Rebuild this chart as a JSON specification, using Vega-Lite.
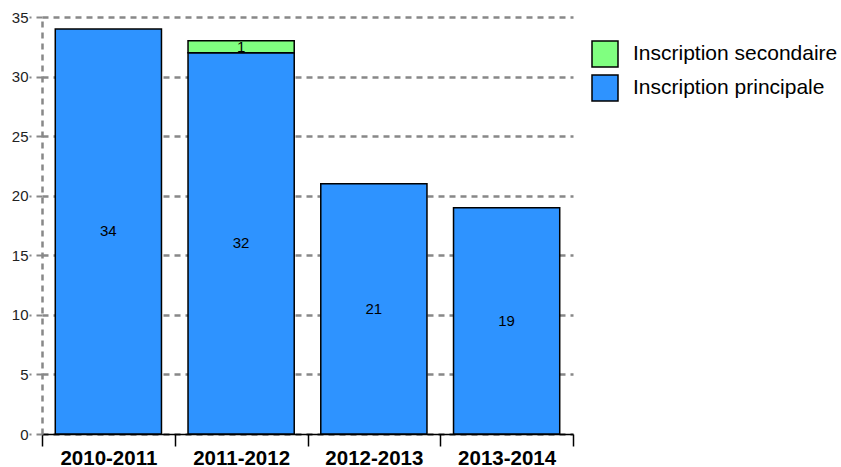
{
  "$schema": "https://vega.github.io/schema/vega-lite/v6.json",
  "width": 531,
  "height": 417,
  "autosize": {"type": "none"},
  "padding": {"left": 42, "top": 17, "right": 268, "bottom": 33},
  "config": {
    "view": {"stroke": null},
    "font": "Liberation Sans"
  },
  "data": {
    "values": [
      {"year": "2010-2011", "type": "Inscription principale", "value": 34},
      {"year": "2011-2012", "type": "Inscription principale", "value": 32},
      {"year": "2011-2012", "type": "Inscription secondaire", "value": 1},
      {"year": "2012-2013", "type": "Inscription principale", "value": 21},
      {"year": "2013-2014", "type": "Inscription principale", "value": 19}
    ]
  },
  "transform": [
    {"stack": "value", "groupby": ["year"], "sort": [{"field": "type", "order": "ascending"}], "as": ["v0", "v1"]},
    {"calculate": "(datum.v0 + datum.v1) / 2", "as": "vmid"}
  ],
  "encoding": {
    "x": {
      "field": "year",
      "type": "nominal",
      "title": null,
      "scale": {"paddingInner": 0, "paddingOuter": 0},
      "axis": {
        "labelAngle": 0,
        "labelFont": "Liberation Sans",
        "labelFontSize": 20.5,
        "labelFontWeight": "bold",
        "labelColor": "#000",
        "labelPadding": 2,
        "domainColor": "#000",
        "domainWidth": 1.5,
        "tickColor": "#000",
        "tickWidth": 1.5,
        "tickSize": 12,
        "tickBand": "extent",
        "grid": false
      }
    }
  },
  "layer": [
    {
      "mark": {"type": "bar", "stroke": "#000", "strokeWidth": 1.5, "width": {"band": 0.8}},
      "encoding": {
        "y": {
          "field": "v1",
          "type": "quantitative",
          "title": null,
          "scale": {"domain": [0, 35], "nice": false},
          "axis": {
            "values": [0, 5, 10, 15, 20, 25, 30, 35],
            "labelFont": "Liberation Sans",
            "labelFontSize": 15,
            "labelColor": "#222",
            "labelPadding": 1,
            "domainColor": "#888",
            "domainWidth": 2.5,
            "domainDash": [6, 5],
            "tickColor": "#888",
            "tickWidth": 2,
            "tickSize": 13,
            "tickDash": [6, 5],
            "grid": true,
            "gridColor": "#888",
            "gridWidth": 2.5,
            "gridDash": [6, 5],
            "gridOpacity": 1
          }
        },
        "y2": {"field": "v0"},
        "color": {
          "field": "type",
          "type": "nominal",
          "title": null,
          "scale": {
            "domain": ["Inscription secondaire", "Inscription principale"],
            "range": ["#80FF80", "#2E93FF"]
          },
          "legend": {
            "orient": "none",
            "legendX": 549,
            "legendY": 23,
            "symbolType": "square",
            "symbolSize": 676,
            "symbolStrokeColor": "#000",
            "symbolStrokeWidth": 1.5,
            "symbolOpacity": 1,
            "labelFont": "Liberation Sans",
            "labelFontSize": 21,
            "labelColor": "#000",
            "labelOffset": 14,
            "rowPadding": 2,
            "labelLimit": 300
          }
        }
      }
    },
    {
      "mark": {"type": "text", "fontSize": 15, "color": "#000", "font": "Liberation Sans", "baseline": "middle"},
      "encoding": {
        "y": {"field": "vmid", "type": "quantitative"},
        "text": {"field": "value", "type": "quantitative"}
      }
    }
  ]
}
